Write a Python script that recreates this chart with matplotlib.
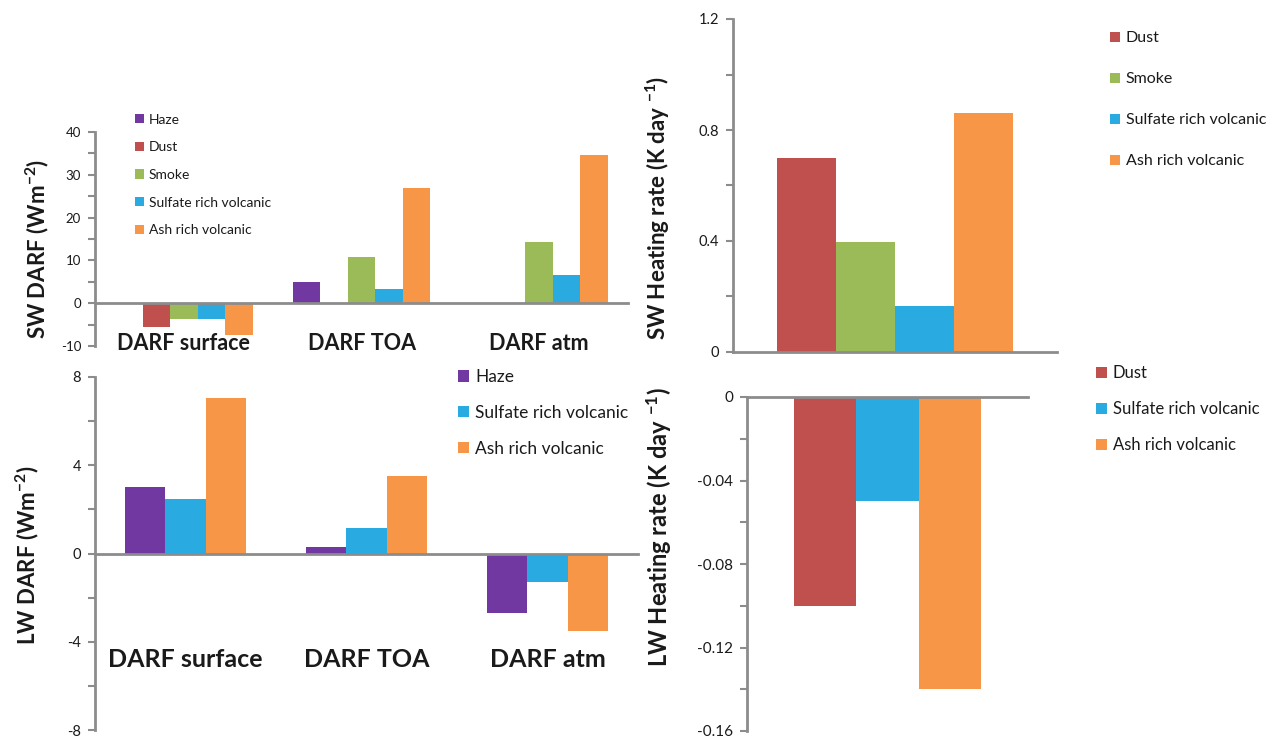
import matplotlib
matplotlib.use("Agg")
import matplotlib.pyplot as plt
import matplotlib.transforms as mtransforms
import numpy as np

plt.rcParams['font.family'] = ['Lato', 'DejaVu Sans']
plt.rcParams['axes.unicode_minus'] = False
plt.rcParams['mathtext.fontset'] = 'custom'
plt.rcParams['mathtext.rm'] = 'Lato:bold'
plt.rcParams['mathtext.default'] = 'rm'

W, H = 1272, 738
GRAY = '#8c8c8c'
TXT = '#1a1a1a'

colors = {
    'Haze': '#7038A0',
    'Dust': '#C0504D',
    'Smoke': '#9BBB59',
    'Sulfate rich volcanic': '#29ABE2',
    'Ash rich volcanic': '#F79646',
}

# shortwave / longwave DARF (W m-2)
darf_cats = ['DARF surface', 'DARF TOA', 'DARF atm']
sw_series = ['Haze', 'Dust', 'Smoke', 'Sulfate rich volcanic', 'Ash rich volcanic']
sw_haze = [0, 4.9, 0]
sw_dust = [-5.5, 0, 0]
sw_smoke = [-3.6, 10.9, 14.4]
sw_sulfate = [-3.6, 3.3, 6.7]
sw_ash = [-7.4, 27.0, 34.6]

lw_series = ['Haze', 'Sulfate rich volcanic', 'Ash rich volcanic']
lw_haze = [3.0, 0.3, -2.7]
lw_sulfate = [2.45, 1.15, -1.3]
lw_ash = [7.05, 3.5, -3.5]

# heating rates (K day-1)
swhr_series = ['Dust', 'Smoke', 'Sulfate rich volcanic', 'Ash rich volcanic']
swhr_values = [0.70, 0.395, 0.165, 0.86]

lwhr_series = ['Dust', 'Sulfate rich volcanic', 'Ash rich volcanic']
lwhr_values = [-0.10, -0.05, -0.14]


def px_axes(fig, left, top, right, bottom):
    return fig.add_axes([left / W, 1 - bottom / H, (right - left) / W, (bottom - top) / H])


def style_axes(ax, ylim, major, labels, minor, labelsize):
    ax.set_ylim(ylim)
    for s in ['top', 'right']:
        ax.spines[s].set_visible(False)
    ax.spines['bottom'].set_position(('data', 0))
    for s in ['left', 'bottom']:
        ax.spines[s].set_color(GRAY)
        ax.spines[s].set_linewidth(2)
    ax.set_xticks([])
    ax.set_yticks(major, labels)
    ax.set_yticks(minor, minor=True)
    ax.tick_params(axis='y', which='both', direction='out', length=5, width=1.5,
                   color=GRAY, labelsize=labelsize, labelcolor=TXT, pad=5)


def grouped_bars(ax, names, series, width):
    n = len(names)
    x = np.arange(len(series[0]))
    for i, (name, vals) in enumerate(zip(names, series)):
        ax.bar(x + (i - (n - 1) / 2) * width, vals, width, color=colors[name],
               label=name, linewidth=0)
    ax.set_xlim(-0.5, len(series[0]) - 0.5)


def cat_labels(ax, cats, yfrac, size):
    trans = mtransforms.blended_transform_factory(ax.transData, ax.transAxes)
    for i, c in enumerate(cats):
        ax.text(i, yfrac, c, transform=trans, ha='center', va='center',
                fontsize=size, fontweight='bold', color=TXT)


def place_legend(ax, fig, x, y, size, spacing):
    ax.legend(loc='upper left', bbox_to_anchor=(x / W, 1 - y / H),
              bbox_transform=fig.transFigure, frameon=False, fontsize=size,
              handlelength=0.65, handleheight=0.65, handletextpad=0.35,
              borderpad=0, borderaxespad=0, labelspacing=spacing,
              labelcolor=TXT)


fig = plt.figure(figsize=(W / 100, H / 100), dpi=100)

# SW DARF
ax1 = px_axes(fig, 95, 132, 628, 346)
grouped_bars(ax1, sw_series, [sw_haze, sw_dust, sw_smoke, sw_sulfate, sw_ash], 0.155)
style_axes(ax1, (-10, 40), [-10, 0, 10, 20, 30, 40], ['-10', '0', '10', '20', '30', '40'],
           np.arange(-10, 41, 5), 9.5)
cat_labels(ax1, darf_cats, 0.014, 15.5)
place_legend(ax1, fig, 135, 113.5, 10, 1.13)

# LW DARF
ax2 = px_axes(fig, 95, 377, 638, 730)
grouped_bars(ax2, lw_series, [lw_haze, lw_sulfate, lw_ash], 0.223)
style_axes(ax2, (-8, 8), [-8, -4, 0, 4, 8], ['-8', '-4', '0', '4', '8'],
           np.arange(-8, 9, 2), 10.5)
cat_labels(ax2, darf_cats, 0.201, 18)
place_legend(ax2, fig, 458, 369, 12.5, 1.14)

# SW heating rate
ax3 = px_axes(fig, 733, 19, 1057, 352)
grouped_bars(ax3, swhr_series, [[v] for v in swhr_values], 0.182)
style_axes(ax3, (0, 1.2), [0, 0.4, 0.8, 1.2], ['0', '0.4', '0.8', '1.2'],
           np.arange(0, 1.21, 0.2), 10.5)
place_legend(ax3, fig, 1110, 31.5, 11.5, 1.69)

# LW heating rate
ax4 = px_axes(fig, 747, 397, 1028, 731)
grouped_bars(ax4, lwhr_series, [[v] for v in lwhr_values], 0.222)
style_axes(ax4, (-0.16, 0), [-0.16, -0.12, -0.08, -0.04, 0],
           ['-0.16', '-0.12', '-0.08', '-0.04', '0'], np.arange(-0.16, 0.001, 0.02), 11)
place_legend(ax4, fig, 1096, 365, 12, 1.2)

# axis titles
ylab = dict(rotation=90, ha='center', va='center', fontweight='bold', color=TXT)
fig.text(37 / W, 1 - 249 / H, 'SW DARF (Wm$^{-2}$)', fontsize=16, **ylab)
fig.text(27 / W, 1 - 555 / H, 'LW DARF (Wm$^{-2}$)', fontsize=16, **ylab)
fig.text(658 / W, 1 - 208 / H, 'SW Heating rate (K day $^{-1}$)', fontsize=16, **ylab)
fig.text(659 / W, 1 - 527 / H, 'LW Heating rate (K day $^{-1}$)', fontsize=17, **ylab)

fig.savefig('out.png', dpi=100)
